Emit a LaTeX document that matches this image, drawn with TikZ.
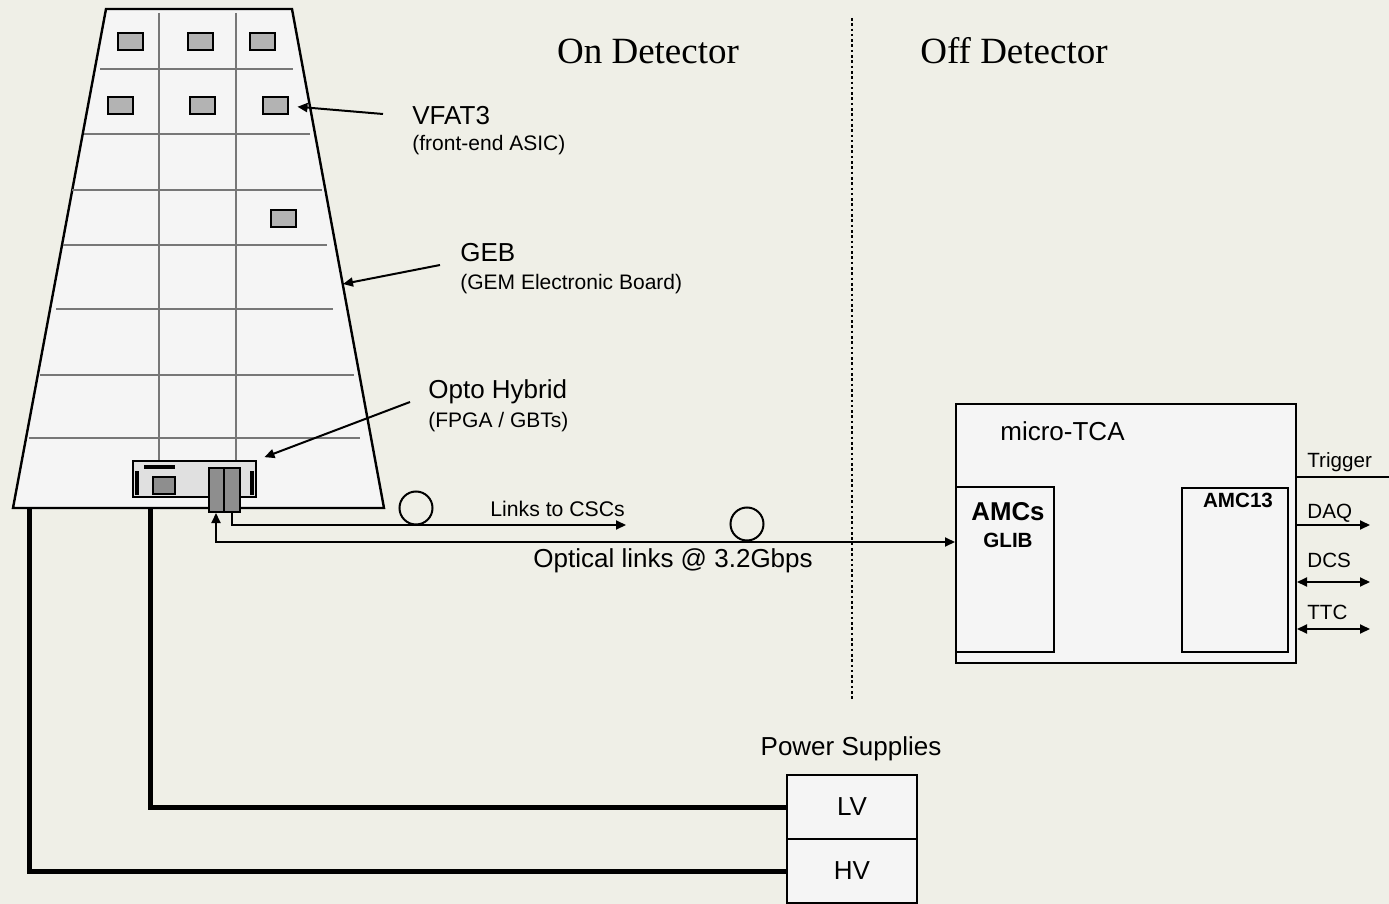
\documentclass[tikz,border=0pt]{standalone}
\usepackage{fontspec}
\setmainfont{Liberation Sans}
\newfontfamily\detfont{Liberation Serif}
\usepackage{xcolor}
\usepackage{tikz}
\usetikzlibrary{arrows.meta, positioning}
\definecolor{paper}{HTML}{EFEFE7}
\definecolor{board}{HTML}{F5F5F5}
\definecolor{chipgray}{HTML}{B3B3B3}
\definecolor{gridgray}{HTML}{777777}
\definecolor{hybrid}{HTML}{E0E0E0}
\definecolor{gbtgray}{HTML}{8E8E8E}
\tikzset{
  chip/.style={rectangle, draw=black, line width=1pt, fill=chipgray, minimum width=12.5pt, minimum height=8.5pt, inner sep=0pt},
  box/.style={rectangle, draw=black, line width=1pt, fill=board, inner sep=0pt},
  gbt/.style={rectangle, draw=black, line width=1pt, fill=gbtgray, minimum width=7.5pt, minimum height=22pt, inner sep=0pt},
  coil/.style={circle, draw=black, line width=1pt, minimum size=16.5pt, inner sep=0pt},
  gridline/.style={draw=gridgray, line width=1.1pt},
  lbl/.style={anchor=base west, inner sep=0pt, font=\fontsize{13}{15}\selectfont},
  sublbl/.style={anchor=base west, inner sep=0pt, font=\fontsize{10.5}{12}\selectfont},
  portlbl/.style={anchor=base west, inner sep=0pt, font=\fontsize{10.3}{12}\selectfont},
  heading/.style={anchor=base, inner sep=0pt, font=\detfont\fontsize{18.5}{20}\selectfont},
  arr/.style={-{Triangle[length=5pt,width=4.5pt]}, line width=1pt},
  darr/.style={{Triangle[length=5pt,width=4.5pt]}-{Triangle[length=5pt,width=4.5pt]}, line width=1pt},
  pwr/.style={line width=2.5pt},
  divider/.style={line width=1.3pt, dash pattern=on 1.3pt off 1.35pt},
}

\begin{document}
\begin{tikzpicture}[x=0.5pt, y=-0.5pt]
\fill[paper] (0,0) rectangle (1389,904);
\useasboundingbox (0,0) rectangle (1389,904);

\draw[line width=1.2pt, fill=board] (106,9) -- (292,9) -- (384,508) -- (13,508) -- cycle;
\foreach \y/\a/\b in {69/100/293, 134/84/310, 190/72/322, 245/63/327, 309/56/333, 375/40/354, 438/29/360}
  \draw[gridline] (\a,\y) -- (\b,\y);
\foreach \x in {159,236} \draw[gridline] (\x,13) -- (\x,461);
\foreach \n/\x/\y in {c1/130/42, c2/200/42, c3/262/42, c4/120/106, c5/202/106, c6/275/106, c7/283/219}
  \node[chip] (\n) at (\x,\y) {};

\node[rectangle, draw=black, line width=1pt, fill=hybrid, minimum width=61.5pt, minimum height=18pt, inner sep=0pt] (opto) at (194.5,479) {};
\draw[line width=2pt] (144,467) -- (175,467);
\draw[line width=2pt] (137,471) -- (137,495); \draw[line width=2pt] (252,471) -- (252,495);
\node[rectangle, draw=black, line width=1pt, fill=gbtgray, minimum width=11pt, minimum height=8.5pt, inner sep=0pt] (fpga) at (164,485.5) {};
\node[gbt] (gbta) at (216,490) {};
\node[gbt, minimum width=8pt] (gbtb) at (231.5,490) {};

\node[lbl] (vfat) at (412,125) {VFAT3};
\node[sublbl] (vfatsub) at (412,151) {(front-end ASIC)};
\node[lbl] (geb) at (460,262) {GEB};
\node[sublbl] (gebsub) at (460,290) {(GEM Electronic Board)};
\node[lbl] (ohlbl) at (428,399) {Opto Hybrid};
\node[sublbl] (ohsub) at (428,427) {(FPGA / GBTs)};
\coordinate (vfattail) at (383,114);
\coordinate (gebtail) at (440,265); \coordinate (gebtip) at (343,284);
\coordinate (optotail) at (410,402);
\draw[arr, shorten >=4.5pt] (vfattail) -- (c6.east);
\draw[arr] (gebtail) -- (gebtip);
\draw[arr, shorten >=4pt] (optotail) -- (opto.north east);

\node[heading] (ondet) at (648,64) {On Detector};
\node[heading] (offdet) at (1014,64) {Off Detector};
\coordinate (divtop) at (852,18); \coordinate (divbot) at (852,700);
\draw[divider] (divtop) -- (divbot);

\node[box, minimum width=170pt, minimum height=129.5pt] (tca) at (1126,533.5) {};
\node[box, minimum width=49pt, minimum height=82.5pt] (amcs) at (1005,569.5) {};
\node[box, minimum width=53pt, minimum height=82pt] (amc13) at (1235,570) {};
\node[lbl] (tcalbl) at (1000,440) {micro-TCA};
\node[anchor=base, inner sep=0pt, font=\bfseries\fontsize{12.9}{15}\selectfont] (amcslbl) at (1008,520) {AMCs};
\node[anchor=base, inner sep=0pt, font=\bfseries\fontsize{10.3}{12}\selectfont] (gliblbl) at (1008,547) {GLIB};
\node[anchor=base, inner sep=0pt, font=\bfseries\fontsize{10.3}{12}\selectfont] (amc13lbl) at (1238,507) {AMC13};

\coordinate (cscend) at (626,525);
\coordinate (optrun) at (216,542);
\draw[arr] (gbtb.south) |- (cscend);
\draw[darr] (gbta.south) -- (optrun) -- (optrun -| amcs.west);
\node[coil] (coila) at (416,508) {};
\node[coil] (coilb) at (747,524) {};
\node[portlbl, font=\fontsize{10.6}{12}\selectfont] (csclbl) at (490,516) {Links to CSCs};
\node[lbl] (optlbl) at (533,567) {Optical links @ 3.2Gbps};

\coordinate (trigend) at (1389,477);
\coordinate (daqend) at (1370,525);
\coordinate (dcsend) at (1370,582);
\coordinate (ttcend) at (1370,629);
\draw[line width=1pt] (trigend -| tca.east) -- (trigend);
\draw[arr] (daqend -| tca.east) -- (daqend);
\draw[darr] (dcsend -| tca.east) -- (dcsend);
\draw[darr] (ttcend -| tca.east) -- (ttcend);
\node[portlbl] (triglbl) at (1307,467) {Trigger};
\node[portlbl] (daqlbl) at (1307,518) {DAQ};
\node[portlbl] (dcslbl) at (1307,567) {DCS};
\node[portlbl] (ttclbl) at (1307,619) {TTC};

\node[anchor=base, inner sep=0pt, font=\fontsize{13}{15}\selectfont] (pslbl) at (851,755) {Power Supplies};
\node[box, minimum width=65pt, minimum height=32pt, font=\fontsize{13}{15}\selectfont] (lv) at (852,807) {LV};
\node[box, minimum width=65pt, minimum height=32pt, font=\fontsize{13}{15}\selectfont] (hv) at (852,871) {HV};
\coordinate (hvtap) at (29,508); \coordinate (lvtap) at (150,508);
\draw[pwr] (lvtap) |- (lv.west);
\draw[pwr] (hvtap) |- (hv.west);
\end{tikzpicture}
\end{document}
